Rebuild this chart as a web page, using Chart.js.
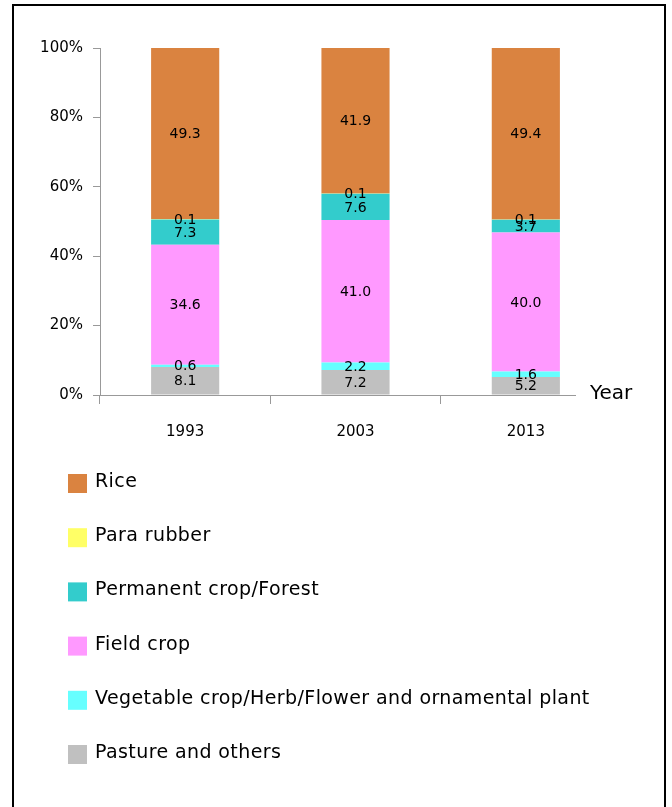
<!DOCTYPE html>
<html><head><meta charset="utf-8">
<script src="https://cdn.jsdelivr.net/npm/chart.js@4"></script>
<style>html,body{margin:0;padding:0;background:#fff;overflow:hidden}canvas{display:block}</style>
</head><body>
<canvas id="c" width="672" height="807"></canvas>
<script>
const years = ['1993', '2003', '2013'];
const seriesNames = ['Pasture and others', 'Vegetable crop/Herb/Flower and ornamental plant', 'Field crop', 'Permanent crop/Forest', 'Para rubber', 'Rice'];
const pasture = [8.1, 7.2, 5.2];
const vegetable = [0.6, 2.2, 1.6];
const fieldCrop = [34.6, 41.0, 40.0];
const permanent = [7.3, 7.6, 3.7];
const paraRubber = [0.1, 0.1, 0.1];
const rice = [49.3, 41.9, 49.4];
const yTickValues = [0, 20, 40, 60, 80, 100];
const seriesColors = ['#C0C0C0', '#66FFFF', '#FF99FF', '#33CCCC', '#FFFF66', '#DA8340'];

const FONT = '"DejaVu Sans", Verdana, sans-serif';
const seriesValues = [pasture, vegetable, fieldCrop, permanent, paraRubber, rice];

const datasets = seriesNames.map((name, i) => ({
  label: name,
  data: seriesValues[i],
  backgroundColor: seriesColors[i],
  borderWidth: 0,
  barPercentage: 0.4,
  categoryPercentage: 1.0
}));

const framePlugin = {
  id: 'frame',
  beforeDraw(chart) {
    const ctx = chart.ctx;
    ctx.save();
    ctx.fillStyle = '#fff';
    ctx.fillRect(0, 0, chart.width, chart.height);
    ctx.strokeStyle = '#000';
    ctx.lineWidth = 2;
    ctx.beginPath();
    ctx.moveTo(13, chart.height);
    ctx.lineTo(13, 5);
    ctx.lineTo(665, 5);
    ctx.lineTo(665, chart.height);
    ctx.stroke();
    ctx.restore();
  }
};

const valueLabels = {
  id: 'valueLabels',
  afterDatasetsDraw(chart) {
    const ctx = chart.ctx;
    ctx.save();
    ctx.font = '14px ' + FONT;
    ctx.fillStyle = '#000';
    ctx.textAlign = 'center';
    ctx.textBaseline = 'middle';
    chart.data.datasets.forEach((ds, di) => {
      const meta = chart.getDatasetMeta(di);
      meta.data.forEach((el, i) => {
        const v = ds.data[i];
        ctx.fillText(v.toFixed(1), el.x, (el.y + el.base) / 2 + 1);
      });
    });
    ctx.restore();
  }
};

const yearLabel = {
  id: 'yearLabel',
  afterDraw(chart) {
    const ctx = chart.ctx;
    const a = chart.chartArea;
    ctx.save();
    ctx.fillStyle = '#fff';
    ctx.fillRect(a.right - 35, a.bottom - 6, 50, 20);
    ctx.fillStyle = '#000';
    ctx.font = '20px ' + FONT;
    ctx.textAlign = 'left';
    ctx.textBaseline = 'middle';
    ctx.fillText('Year', a.right - 21, a.bottom - 1);
    ctx.restore();
  }
};

const stackLegend = {
  id: 'stackLegend',
  afterDraw(chart) {
    const ctx = chart.ctx;
    ctx.save();
    ctx.font = '19px ' + FONT;
    ctx.textAlign = 'left';
    ctx.textBaseline = 'middle';
    if ('letterSpacing' in ctx) ctx.letterSpacing = '0.4px';
    const ds = chart.data.datasets.slice().reverse();
    ds.forEach((d, k) => {
      const y0 = 474 + k * 54.2;
      ctx.fillStyle = d.backgroundColor;
      ctx.fillRect(68, y0, 19, 19);
      ctx.fillStyle = '#000';
      ctx.fillText(d.label, 95, y0 + 8);
    });
    ctx.restore();
  }
};

new Chart(document.getElementById('c'), {
  type: 'bar',
  data: { labels: years, datasets },
  options: {
    responsive: false,
    devicePixelRatio: 1,
    animation: false,
    layout: { padding: { left: 0, right: 61, top: 48, bottom: 362 } },
    plugins: { legend: { display: false }, tooltip: { enabled: false } },
    scales: {
      x: {
        stacked: true,
        afterFit(s) { s.height = 50; },
        grid: { offset: true, drawOnChartArea: false, drawTicks: true, tickLength: 9, color: '#999' },
        border: { display: true, color: '#999', width: 1 },
        ticks: { color: '#000', font: { family: FONT, size: 15 }, padding: 19 }
      },
      y: {
        stacked: true,
        min: 0,
        max: 100,
        afterFit(s) { s.width = 100; },
        afterBuildTicks(s) { s.ticks = yTickValues.map(v => ({ value: v })); },
        grid: { drawOnChartArea: false, drawTicks: true, tickLength: 7, color: '#999' },
        border: { display: true, color: '#999', width: 1 },
        ticks: { color: '#000', font: { family: FONT, size: 15 }, padding: 10, callback: v => v + '%' }
      }
    }
  },
  plugins: [framePlugin, valueLabels, yearLabel, stackLegend]
});
</script>
</body></html>
